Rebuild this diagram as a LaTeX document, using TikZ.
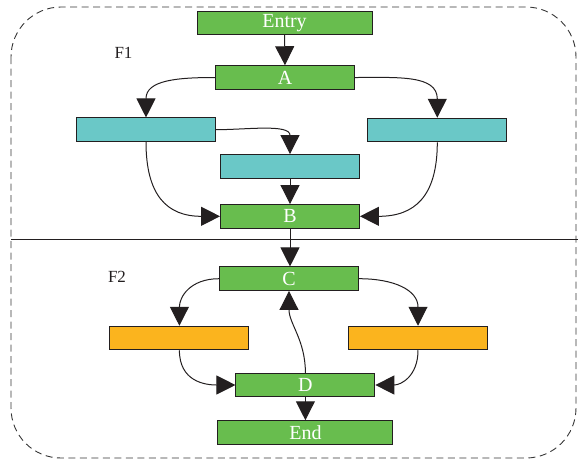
\documentclass[tikz,border=0pt]{standalone}
\usepackage{fontspec}
\setmainfont{Liberation Serif}
\usetikzlibrary{arrows.meta}
\definecolor{boxgreen}{RGB}{104,189,78}
\definecolor{boxcyan}{RGB}{106,200,199}
\definecolor{boxorange}{RGB}{251,180,30}
\definecolor{ink}{RGB}{35,31,32}
\definecolor{frameline}{RGB}{55,55,55}
\tikzset{
  block/.style={draw=ink, line width=0.9pt, inner sep=0pt, minimum width=139pt,
    minimum height=23.6pt, text=white, font=\fontsize{20}{22}\selectfont},
  wideblock/.style={block, minimum width=175pt},
  greenbox/.style={block, fill=boxgreen},
  cyanbox/.style={block, fill=boxcyan},
  orangebox/.style={block, fill=boxorange},
  flow/.style={draw=ink, line width=1pt, -{Triangle[length=19pt,width=19pt]}},
  regionlabel/.style={text=ink, font=\fontsize{17}{19}\selectfont},
}
\begin{document}
\begin{tikzpicture}[x=1pt,y=1pt]
\useasboundingbox (0,0) rectangle (578,-459);

% outer dashed frame and the separator between the two regions
\draw[frameline, line width=0.9pt, dash pattern=on 7pt off 4.5pt, rounded corners=50pt]
  (11,-7) rectangle (576,-458);
\coordinate (sepL) at (11,-239);
\coordinate (sepR) at (578,-239);
\draw[ink, line width=0.9pt] (sepL) -- (sepR);

\node[regionlabel] (f1) at (123.5,-53) {F1};
\node[regionlabel] (f2) at (117,-276.5) {F2};

% region F1
\node[greenbox, wideblock] (entry) at (284.5,-22.8) {Entry};
\node[greenbox] (a) at (285,-77.5) {A};
\node[cyanbox] (l1) at (146,-129.7) {};
\node[cyanbox] (r1) at (437.3,-130) {};
\node[cyanbox] (m1) at (290,-166.3) {};
\node[greenbox] (b) at (290,-216.3) {B};

% region F2
\node[greenbox] (c) at (289,-278.7) {C};
\node[orangebox] (l2) at (179.4,-338) {};
\node[orangebox] (r2) at (418,-338) {};
\node[greenbox] (d) at (305.4,-385) {D};
\node[greenbox, wideblock] (end) at (305.4,-432.5) {End};

% connectors
\draw[flow] (entry.south) -- (a.north);
\draw[flow] (a.west) to[out=180,in=90,looseness=1.2] (l1.north);
\draw[flow] (a.east) to[out=0,in=90,looseness=1.2] (r1.north);
\draw[flow] (l1.east) to[out=0,in=90] (m1.north);
\draw[flow] (m1.south) -- (b.north);
\draw[flow] (l1.south) to[out=-90,in=180,looseness=1.3] (b.west);
\draw[flow] (r1.south) to[out=-90,in=0,looseness=1.3] (b.east);
\draw[flow] (b.south) -- (b.south |- c.north);
\draw[flow] (c.west) to[out=180,in=90,looseness=1.2] (l2.north);
\draw[flow] (c.east) to[out=0,in=90,looseness=1.2] (r2.north);
\draw[flow] (l2.south) to[out=-90,in=180,looseness=1.2] (d.west);
\draw[flow] (r2.south) to[out=-90,in=0,looseness=1.2] (d.east);
\draw[flow] (d.north) to[out=90,in=-90] (c.south);
\draw[flow] (d.south) -- (end.north);
\end{tikzpicture}
\end{document}
